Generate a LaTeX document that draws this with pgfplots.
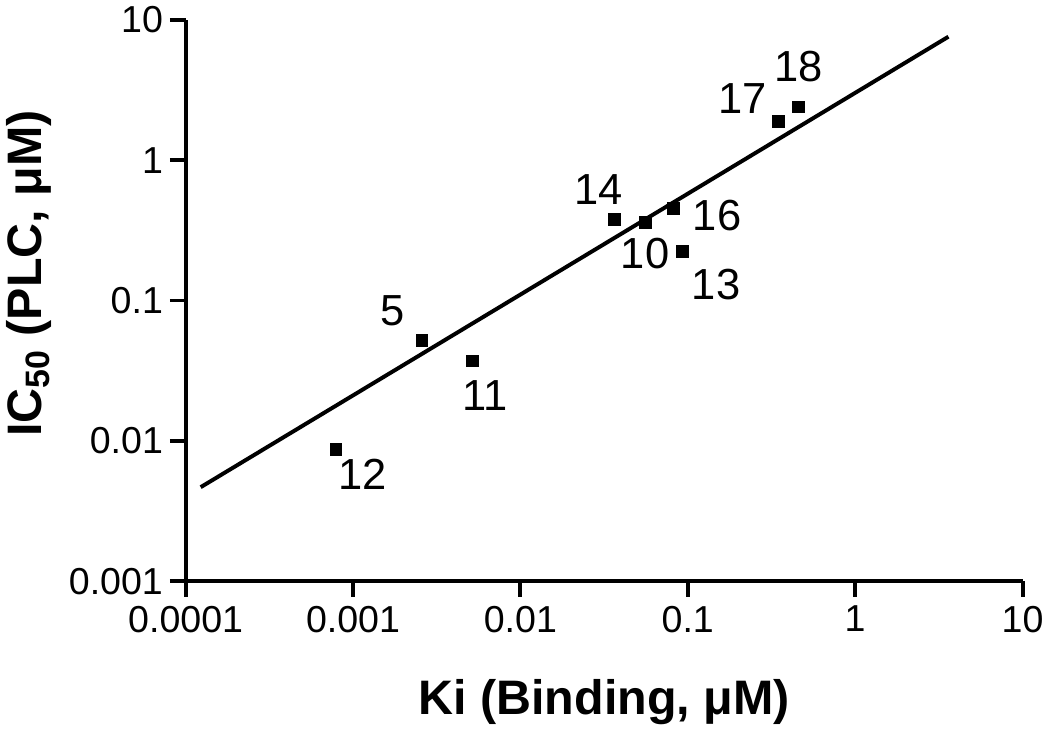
\documentclass[border=0pt]{standalone}
\usepackage{fontspec}
\setmainfont{Liberation Sans}
\usepackage{pgfplots}
\pgfplotsset{compat=1.18}

\begin{document}
\begin{tikzpicture}
\begin{axis}[
    scale only axis,
    width=423.5pt, height=284pt,
    xmode=log, ymode=log,
    xmin=1e-4, xmax=10,
    ymin=1e-3, ymax=10,
    axis x line=bottom, axis y line=left,
    axis line style={-, line width=2pt},
    tick align=outside,
    major tick length=8pt,
    every tick/.style={black, line width=2pt},
    xminorticks=false, yminorticks=false,
    xtick={1e-4,1e-3,1e-2,1e-1,1,10},
    xticklabels={0.0001,0.001,0.01,0.1,1,10},
    ytick={1e-3,1e-2,1e-1,1,10},
    yticklabels={0.001,0.01,0.1,1,10},
    tick label style={font=\fontsize{19}{19}\selectfont},
    xticklabel style={yshift=-1pt},
    xlabel={\textbf{Ki (Binding, μM)}},
    ylabel={\textbf{IC\textsubscript{50} (PLC, μM)}},
    label style={font=\fontsize{24.5}{24.5}\selectfont},
    xlabel style={at={(rel axis cs:0.5,-0.215)}, anchor=center},
    ylabel style={at={(rel axis cs:-0.187,0.548)}, anchor=center},
    clip=false,
]
% compounds
\addplot[only marks, mark=square*, mark size=3pt, black] coordinates {
    (0.00079,0.00865)   % 12
    (0.00258,0.0522)    % 5
    (0.00515,0.0371)    % 11
    (0.0365,0.378)      % 14
    (0.0556,0.360)      % 10
    (0.0824,0.452)      % 16
    (0.0931,0.225)      % 13
    (0.348,1.88)        % 17
    (0.457,2.40)        % 18
};
% regression line
\addplot[black, line width=2pt] coordinates {(0.000123,0.00467) (3.61,7.59)};

\begin{scope}[every node/.style={font=\fontsize{22}{22}\selectfont, inner sep=0pt}]
\node at ([shift={(13.5pt,-12.5pt)}]axis cs:0.00079,0.00865) {12};
\node at ([shift={(-15pt,15pt)}]axis cs:0.00258,0.0522) {5};
\node at ([shift={(6.5pt,-17.5pt)}]axis cs:0.00515,0.0371) {11};
\node at ([shift={(-8pt,15pt)}]axis cs:0.0365,0.378) {14};
\node at ([shift={(0pt,-15.5pt)}]axis cs:0.0556,0.360) {10};
\node at ([shift={(22pt,-3.5pt)}]axis cs:0.0824,0.452) {16};
\node at ([shift={(17pt,-17pt)}]axis cs:0.0931,0.225) {13};
\node at ([shift={(-18pt,11.5pt)}]axis cs:0.348,1.88) {17};
\node at ([shift={(0pt,20.5pt)}]axis cs:0.457,2.40) {18};
\end{scope}

\coordinate (bbl) at (rel axis cs:-0.216,-0.257);
\coordinate (btr) at (rel axis cs:1.0236,1.0264);
\end{axis}
\useasboundingbox (bbl) rectangle (btr);
\end{tikzpicture}
\end{document}
